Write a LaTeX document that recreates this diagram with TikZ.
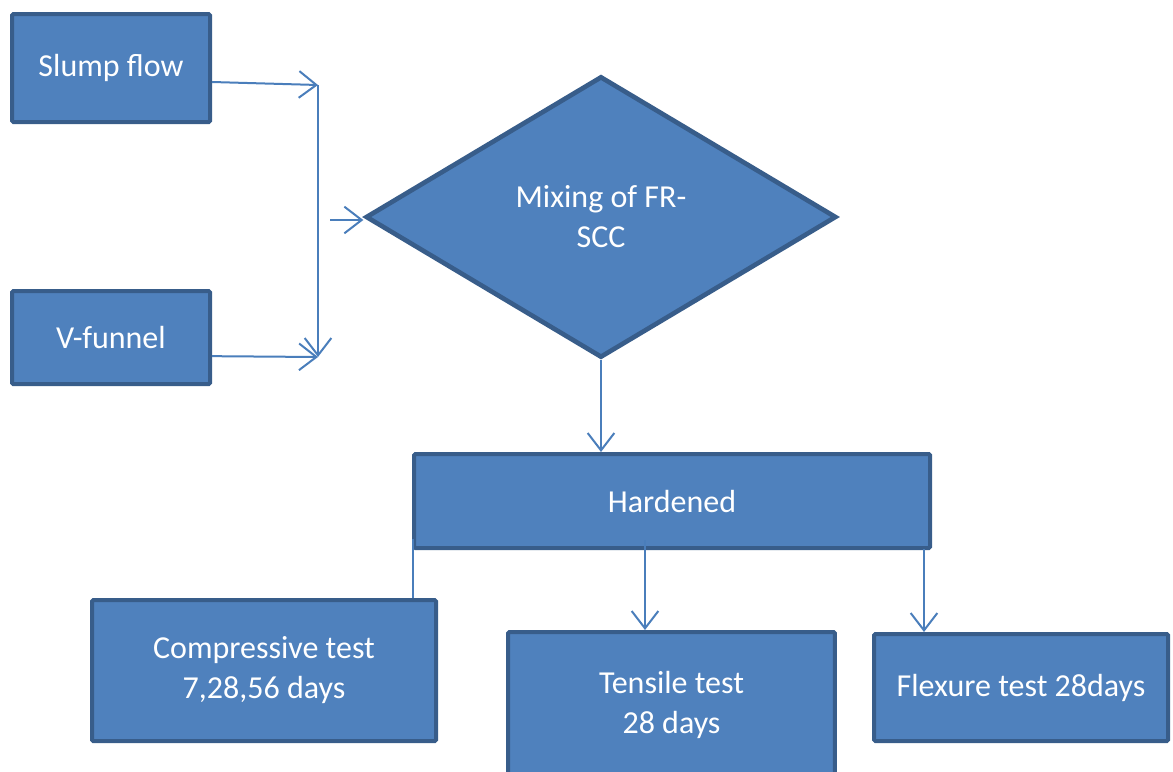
\documentclass[tikz,border=0pt]{standalone}
\usepackage{fontspec}
\setmainfont{Carlito}
\usetikzlibrary{shapes.geometric,arrows.meta}
\definecolor{boxfill}{HTML}{4F81BD}
\definecolor{boxline}{HTML}{385D8A}
\definecolor{conn}{HTML}{4A7EBB}
\tikzset{
  box/.style={draw=boxline, fill=boxfill, line width=3pt, rounded corners=1pt, text=white, align=center, inner sep=2pt, font=\fontsize{24}{30}\selectfont},
  dia/.style={diamond, draw=boxline, fill=boxfill, line width=3.5pt, text=white, align=center, inner sep=0pt, font=\fontsize{24}{30}\selectfont},
  conline/.style={draw=conn, line width=1.5pt},
  arr/.style={conline, -{Straight Barb[length=13pt, width=20pt, line width=1.5pt]}},
}
\begin{document}
\begin{tikzpicture}[x=0.75pt, y=-0.75pt]
\useasboundingbox (0,0) rectangle (1173,771);
\node[box, minimum width=148.5pt, minimum height=81pt] (slump) at (111,68) {Slump flow};
\node[box, minimum width=148.5pt, minimum height=69.75pt] (vfun) at (111,337.5) {V-funnel};
\node[dia, minimum width=353pt, minimum height=211pt, aspect=1.67] (mix) at (601,217) {Mixing of FR-\\SCC};
\node[box, minimum width=387pt, minimum height=70.5pt] (hard) at (672,501) {Hardened};
\node[box, minimum width=258pt, minimum height=105.75pt] (comp) at (264,670.5) {Compressive test\\7,28,56 days};
\node[box, minimum width=245pt, minimum height=109.5pt] (tens) at (671.5,705) {Tensile test\\28 days};
\node[box, minimum width=220.5pt, minimum height=80.25pt] (flex) at (1021,687.5) {Flexure test 28days};
\coordinate (j1) at (318,85);
\coordinate (j2) at (318,357);
\coordinate (j3) at (330,220);
\coordinate (t1) at (645,540);
\coordinate (f1) at (924,549);
\draw[arr] ([yshift=-10.5pt]slump.east) -- (j1);
\draw[arr] (j1) -- (j2);
\draw[arr] ([yshift=-14pt]vfun.east) -- (j2);
\draw[arr] (j3) -- (j3 -| mix.west);
\draw[arr] (mix.south) -- (mix.south |- hard.north);
\draw[conline] ([shift={(1pt,8pt)}]hard.south west) -- ([xshift=1pt]hard.south west |- comp.north);
\draw[arr] (t1) -- (t1 |- tens.north);
\draw[arr] (f1) -- (f1 |- flex.north);
\end{tikzpicture}
\end{document}
